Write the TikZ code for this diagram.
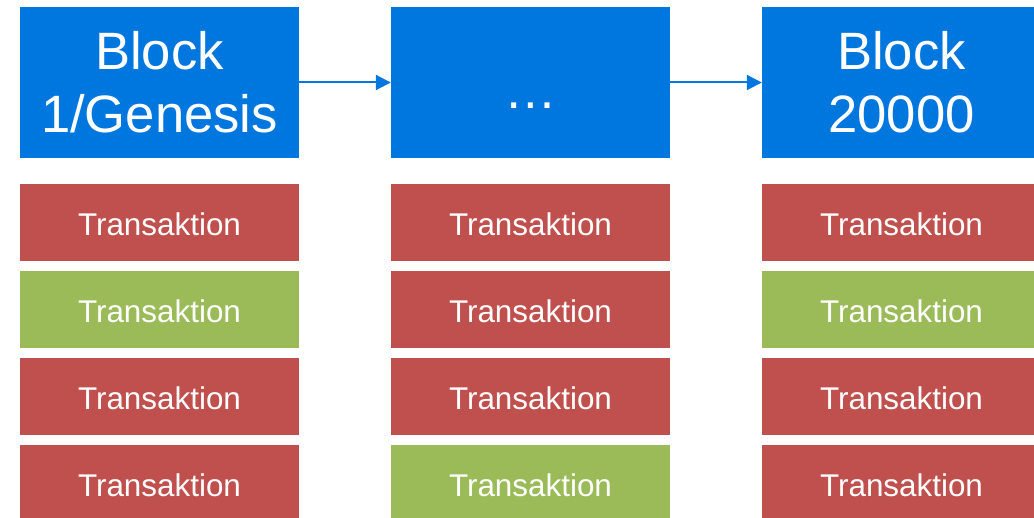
\documentclass[tikz,border=0pt]{standalone}
\usepackage{fontspec}
\setmainfont{Liberation Sans}
\usetikzlibrary{arrows.meta}
\definecolor{blkblue}{RGB}{0,118,223}
\definecolor{txred}{RGB}{192,80,77}
\definecolor{txgreen}{RGB}{155,187,89}
\tikzset{
  blockbox/.style={fill=blkblue, draw=none, minimum width=279pt, minimum height=150.5pt, inner sep=0pt, text=white, align=center, font=\fontsize{52.6}{63}\selectfont},
  txbox/.style={draw=none, minimum width=279pt, minimum height=76.7pt, inner sep=0pt, text=white, text height=26pt, text depth=0pt, font=\fontsize{31.4}{36}\selectfont},
  txr/.style={txbox, fill=txred},
  txg/.style={txbox, fill=txgreen},
  chain/.style={draw=blkblue, line width=2pt, -{Triangle[length=15pt,width=15pt]}}
}
\begin{document}
\begin{tikzpicture}[x=1pt,y=-1pt]
\useasboundingbox (0,0) rectangle (1034,518);
\clip (0,0) rectangle (1034,518);
\node[blockbox] (b1) at (159.5,82.5) {Block\\1/Genesis};
\node[blockbox] (b2) at (530.5,82.5) {\rule{0pt}{53pt}\dots};
\node[blockbox] (b3) at (901.5,82.5) {Block\\20000};
\draw[chain] (b1.east) -- (b2.west);
\draw[chain] (b2.east) -- (b3.west);
% column 1
\node[txr] (t11) at (159.5,222.35) {Transaktion};
\node[txg] (t12) at (159.5,309.35) {Transaktion};
\node[txr] (t13) at (159.5,396.35) {Transaktion};
\node[txr] (t14) at (159.5,483.35) {Transaktion};
% column 2
\node[txr] (t21) at (530.5,222.35) {Transaktion};
\node[txr] (t22) at (530.5,309.35) {Transaktion};
\node[txr] (t23) at (530.5,396.35) {Transaktion};
\node[txg] (t24) at (530.5,483.35) {Transaktion};
% column 3
\node[txr] (t31) at (901.5,222.35) {Transaktion};
\node[txg] (t32) at (901.5,309.35) {Transaktion};
\node[txr] (t33) at (901.5,396.35) {Transaktion};
\node[txr] (t34) at (901.5,483.35) {Transaktion};
\end{tikzpicture}
\end{document}
